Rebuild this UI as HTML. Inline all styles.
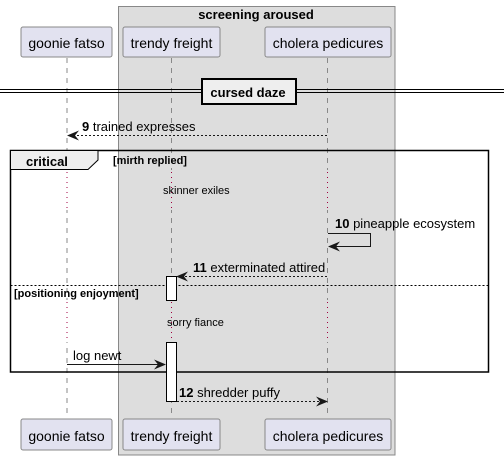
<!DOCTYPE html>
<html><head><meta charset="utf-8"><style>html,body{margin:0;padding:0;background:#fff}svg{display:block}</style></head>
<body>
<svg width="504" height="460" viewBox="0 0 504 460" xmlns="http://www.w3.org/2000/svg" font-family="Liberation Sans, sans-serif">
<defs>
<marker id="ah" viewBox="0 0 12 10" refX="11" refY="5" markerWidth="12" markerHeight="10" markerUnits="userSpaceOnUse" orient="auto">
<path d="M0,0 L12,5 L0,10 L4,5 Z" fill="#181818"/>
</marker>
</defs>
<!-- box -->
<rect x="118.5" y="6.5" width="276.5" height="448.5" fill="#dddddd" stroke="#888" stroke-width="1"/>
<text x="256" y="19" font-size="13" font-weight="bold" text-anchor="middle" fill="#000">screening aroused</text>
<!-- lifelines -->
<g stroke="#888" stroke-dasharray="5,5" stroke-width="1">
<line x1="67" y1="58" x2="67" y2="418"/>
<line x1="171.5" y1="58" x2="171.5" y2="418"/>
<line x1="327.5" y1="58" x2="327.5" y2="418"/>
</g>
<g fill="#e2e2f0" stroke="#888" stroke-width="1">
<rect x="21" y="27" width="91" height="30" rx="2"/>
<rect x="123" y="27" width="97" height="30" rx="2"/>
<rect x="265" y="27" width="126" height="30" rx="2"/>
<rect x="21" y="419" width="91" height="31" rx="2"/>
<rect x="123" y="419" width="97" height="31" rx="2"/>
<rect x="265" y="419" width="126" height="31" rx="2"/>
</g>
<g font-size="14" fill="#000" text-anchor="middle">
<text x="66.5" y="48">goonie fatso</text>
<text x="171.5" y="48">trendy freight</text>
<text x="328" y="48">cholera pedicures</text>
<text x="66.5" y="441">goonie fatso</text>
<text x="171.5" y="441">trendy freight</text>
<text x="328" y="441">cholera pedicures</text>
</g>
<!-- divider -->
<line x1="0" y1="89.5" x2="504" y2="89.5" stroke="#000"/>
<line x1="0" y1="92.5" x2="504" y2="92.5" stroke="#000"/>
<rect x="202" y="79" width="94" height="25" fill="#eeeeee" stroke="#000" stroke-width="2"/>
<text x="248" y="97" font-size="13" font-weight="bold" text-anchor="middle">cursed daze</text>
<!-- msg 9 -->
<line x1="327" y1="135.5" x2="68" y2="135.5" stroke="#181818" stroke-dasharray="2,2" marker-end="url(#ah)"/>
<text x="82" y="131" font-size="13"><tspan font-weight="bold">9</tspan> trained expresses</text>
<!-- frame -->
<rect x="10.5" y="150.5" width="478" height="221.5" fill="none" stroke="#000" stroke-width="1.5"/>
<path d="M10.5,150.5 H98 V160 L88,169.5 H10.5 Z" fill="#eeeeee" stroke="#000" stroke-width="1"/>
<text x="26" y="166" font-size="13" font-weight="bold">critical</text>
<text x="113" y="164" font-size="11" font-weight="bold">[mirth replied]</text>
<!-- dotted gaps -->
<g fill="#fff">
<rect x="63" y="170" width="8" height="40"/><rect x="63" y="300" width="8" height="42"/>
</g>
<g fill="#ddd">
<rect x="168" y="170" width="8" height="40"/><rect x="323" y="170" width="8" height="40"/>
<rect x="168" y="300" width="8" height="42"/><rect x="323" y="300" width="8" height="42"/>
</g>
<g stroke="#a00040" stroke-dasharray="1,4" stroke-width="1">
<line x1="67" y1="172" x2="67" y2="210"/><line x1="171.5" y1="172" x2="171.5" y2="210"/><line x1="327.5" y1="172" x2="327.5" y2="210"/>
<line x1="67" y1="302" x2="67" y2="342"/><line x1="171.5" y1="302" x2="171.5" y2="342"/><line x1="327.5" y1="302" x2="327.5" y2="342"/>
</g>
<text x="163" y="194" font-size="11">skinner exiles</text>
<!-- msg 10 -->
<path d="M328,233.5 H370.5 V246.5 H329" fill="none" stroke="#181818" marker-end="url(#ah)"/>
<text x="335" y="228" font-size="13"><tspan font-weight="bold">10</tspan> pineapple ecosystem</text>
<!-- msg 11 -->
<line x1="327" y1="276.5" x2="177" y2="276.5" stroke="#181818" stroke-dasharray="2,2" marker-end="url(#ah)"/>
<text x="193" y="272" font-size="13"><tspan font-weight="bold">11</tspan> exterminated attired</text>
<line x1="10.5" y1="285.5" x2="488.5" y2="285.5" stroke="#000" stroke-dasharray="2,2"/>
<text x="14" y="297" font-size="11" font-weight="bold">[positioning enjoyment]</text>
<rect x="166.5" y="276.5" width="10" height="24" fill="#fff" stroke="#000"/>
<text x="167" y="326" font-size="11">sorry fiance</text>
<!-- log newt -->
<line x1="67" y1="364.5" x2="165" y2="364.5" stroke="#181818" marker-end="url(#ah)"/>
<text x="73" y="360" font-size="13">log newt</text>
<rect x="166.5" y="342.5" width="10" height="59" fill="#fff" stroke="#000"/>
<!-- msg 12 -->
<line x1="177" y1="401.5" x2="327" y2="401.5" stroke="#181818" stroke-dasharray="2,2" marker-end="url(#ah)"/>
<text x="179" y="397" font-size="13"><tspan font-weight="bold">12</tspan> shredder puffy</text>
</svg>
</body></html>
